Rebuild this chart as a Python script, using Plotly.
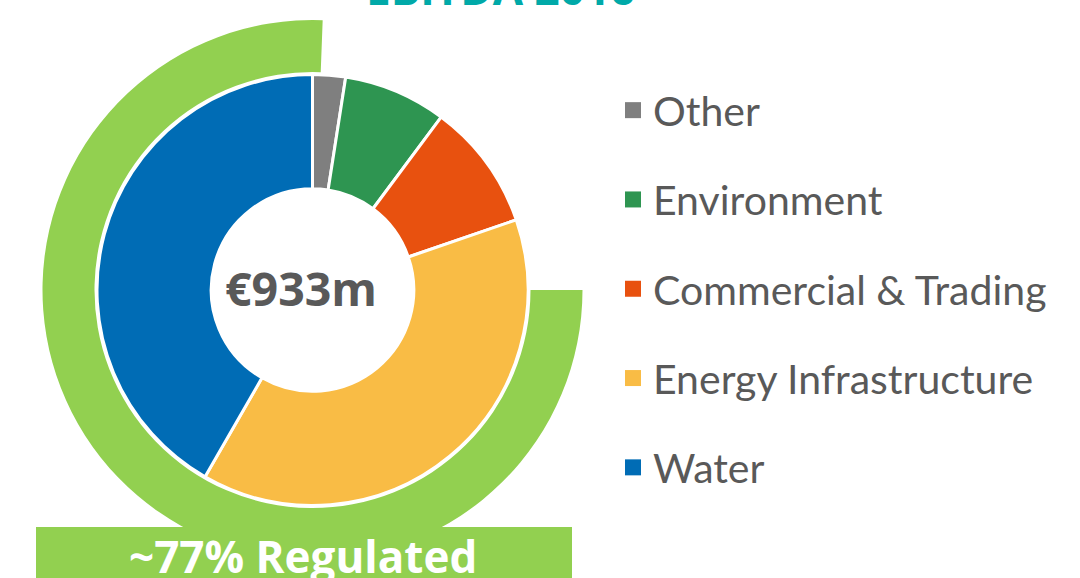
import plotly.graph_objects as go

# ---- data ----
segments = ["Other", "Environment", "Commercial & Trading", "Energy Infrastructure", "Water"]
ebitda_m = [23, 72, 89, 360, 389]          # €m, total 933
seg_colors = ["#7F7F7F", "#2E9551", "#E8510F", "#F9BC45", "#006CB5"]

reg_labels = ["Regulated", "Non-regulated"]
reg_share = [75.6, 24.4]                    # arc as drawn (~77% label)
reg_colors = ["#92D050", "rgba(0,0,0,0)"]

title_text = "EBITDA 2016"
center_text = "€933m"
box_text = "~77% Regulated"

W, H = 1080, 578
def px_x(v): return v / W
def px_y(v): return 1 - v / H

fig = go.Figure()

# outer regulated arc
cx, cy = 312.5, 290
Ro, Ri = 270, 215.5
fig.add_trace(go.Pie(
    labels=reg_labels, values=reg_share, sort=False, direction="clockwise", rotation=90,
    hole=218 / Ro, marker=dict(colors=reg_colors, line=dict(width=0)),
    textinfo="none", hoverinfo="skip", showlegend=False,
    domain=dict(x=[px_x(cx - Ro), px_x(cx + Ro)], y=[px_y(cy + Ro), px_y(cy - Ro)]),
))

# inner donut
fig.add_trace(go.Pie(
    labels=segments, values=ebitda_m, sort=False, direction="clockwise", rotation=0,
    hole=0.47, marker=dict(colors=seg_colors, line=dict(color="white", width=3)),
    textinfo="none", showlegend=False,
    domain=dict(x=[px_x(cx - Ri), px_x(cx + Ri)], y=[px_y(cy + Ri), px_y(cy - Ri)]),
))

# legend entries
for name, col in zip(segments, seg_colors):
    fig.add_trace(go.Scatter(
        x=[None], y=[None], mode="markers", name=name, legendgroup=name,
        marker=dict(symbol="square", size=16, color=col), showlegend=True,
    ))

fig.update_layout(
    width=W, height=H, margin=dict(l=0, r=0, t=0, b=0),
    paper_bgcolor="white", plot_bgcolor="white",
    xaxis=dict(visible=False), yaxis=dict(visible=False),
    legend=dict(
        x=px_x(613), y=px_y(77), xanchor="left", yanchor="top",
        font=dict(family="Lato", size=41, color="#595959"),
        tracegroupgap=33, traceorder="grouped", bgcolor="rgba(0,0,0,0)",
    ),
    shapes=[dict(
        type="rect", xref="paper", yref="paper", layer="above",
        x0=px_x(36), x1=px_x(572), y0=-0.05, y1=px_y(527),
        fillcolor="#92D050", line=dict(width=0),
    )],
    annotations=[
        dict(text="<b>" + title_text + "</b>", x=px_x(500), y=px_y(-12), xref="paper", yref="paper",
             showarrow=False, xanchor="center", yanchor="middle",
             font=dict(family="Open Sans", size=44, color="#00A9A8")),
        dict(text="<b>" + center_text + "</b>", x=px_x(301), y=px_y(288), xref="paper", yref="paper",
             showarrow=False, xanchor="center", yanchor="middle",
             font=dict(family="Open Sans", size=46.5, color="#595959")),
        dict(text="<b>" + box_text + "</b>", x=px_x(302.5), y=px_y(556), xref="paper", yref="paper",
             showarrow=False, xanchor="center", yanchor="middle",
             font=dict(family="Open Sans", size=44, color="white")),
    ],
)

fig.write_html("out.html", config={"displayModeBar": False},
               post_script="document.body.style.margin='0';")
